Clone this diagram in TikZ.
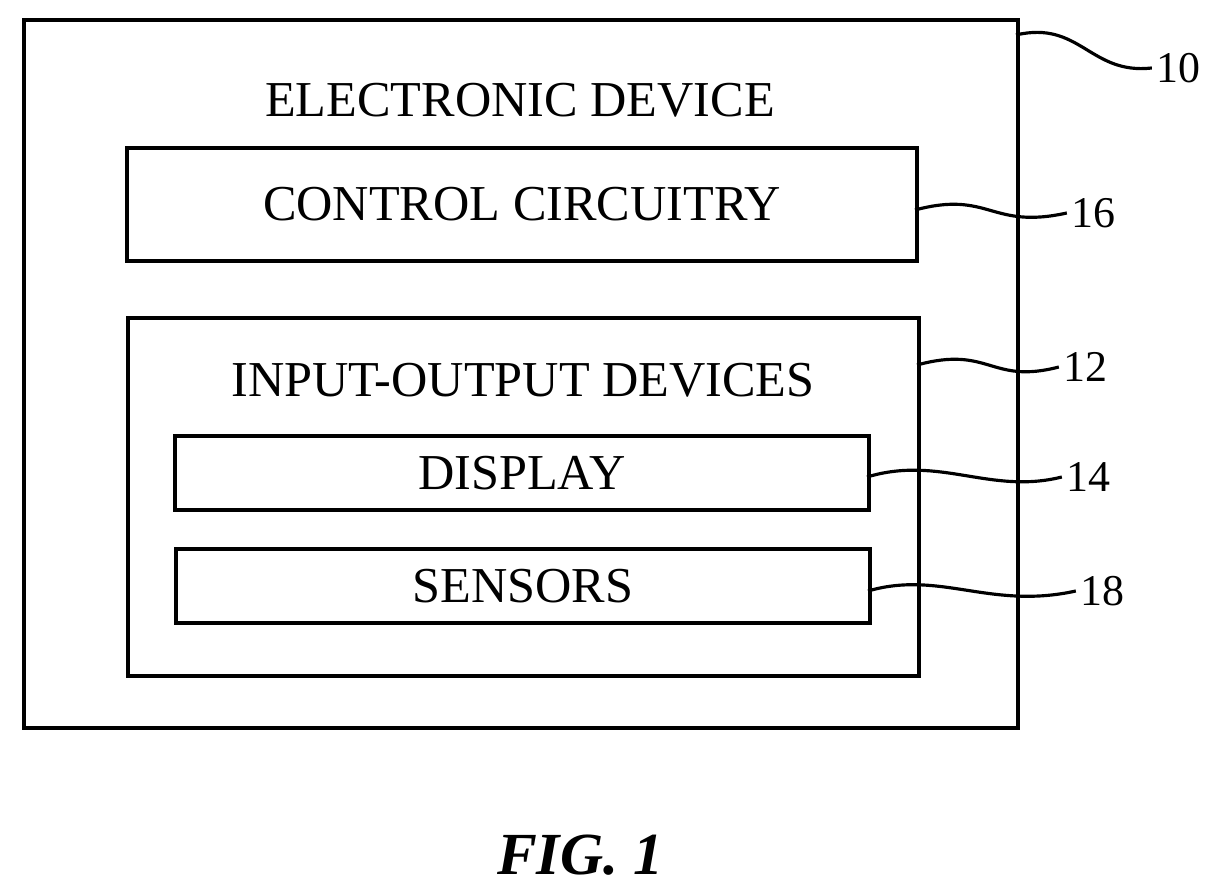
\documentclass[tikz,border=0pt]{standalone}
\usepackage{fontspec}
\setmainfont{Liberation Serif}
\usetikzlibrary{positioning}
\begin{document}
\begin{tikzpicture}
        \tikzset{
            box/.style={draw, line width=1.2pt, anchor=south west, inner sep=0pt},
            caption/.style={font=\fontsize{14.3}{17}\selectfont},
            ref/.style={font=\fontsize{12.5}{15}\selectfont, inner sep=1pt},
            lead/.style={line width=0.9pt}
        }
        \useasboundingbox (0,0) rectangle (12.16,8.95);

        % boxes
        \node [box, minimum width=9.94cm, minimum height=7.08cm] (dev) at (0.22,1.65) {};
        \node [box, minimum width=7.9cm, minimum height=1.13cm] (ctrl) at (1.25,6.32) {};
        \node [box, minimum width=7.91cm, minimum height=3.58cm] (io) at (1.26,2.17) {};
        \node [box, minimum width=6.94cm, minimum height=0.74cm] (disp) at (1.73,3.83) {};
        \node [box, minimum width=6.94cm, minimum height=0.74cm] (sens) at (1.74,2.70) {};

        % texts
        \node [caption] (tdev) at (5.2,7.95) {ELECTRONIC DEVICE};
        \node [caption] at (ctrl.center) {CONTROL CIRCUITRY};
        \node [caption] (tio) at (5.23,5.15) {INPUT-OUTPUT DEVICES};
        \node [caption] at (disp.center) {DISPLAY};
        \node [caption] at (sens.center) {SENSORS};

        % reference numerals
        \node [ref] (n10) at (11.78,8.27) {10};
        \node [ref] (n16) at (10.93,6.82) {16};
        \node [ref] (n12) at (10.85,5.28) {12};
        \node [ref] (n14) at (10.88,4.18) {14};
        \node [ref] (n18) at (11.02,3.04) {18};

        \coordinate (s10) at (10.16,8.60);
        \coordinate (s16) at (9.15,6.85);
        \coordinate (s12) at (9.17,5.30);
        \coordinate (s14) at (8.67,4.18);
        \coordinate (s18) at (8.68,3.04);

        \draw [lead] (s10) .. controls (10.8,8.75) and (10.9,8.2) .. (n10.west);
        \draw [lead] (s16) .. controls (9.9,7.05) and (9.9,6.65) .. (n16.west);
        \draw [lead] (s12) .. controls (9.9,5.5) and (9.9,5.1) .. (n12.west);
        \draw [lead] (s14) .. controls (9.4,4.4) and (9.9,4.0) .. (n14.west);
        \draw [lead] (s18) .. controls (9.4,3.25) and (9.9,2.85) .. (n18.west);

        \node [font=\fontsize{17}{20}\selectfont\bfseries\itshape] (fig) at (5.8,0.4) {FIG. 1};
    \end{tikzpicture}
\end{document}
